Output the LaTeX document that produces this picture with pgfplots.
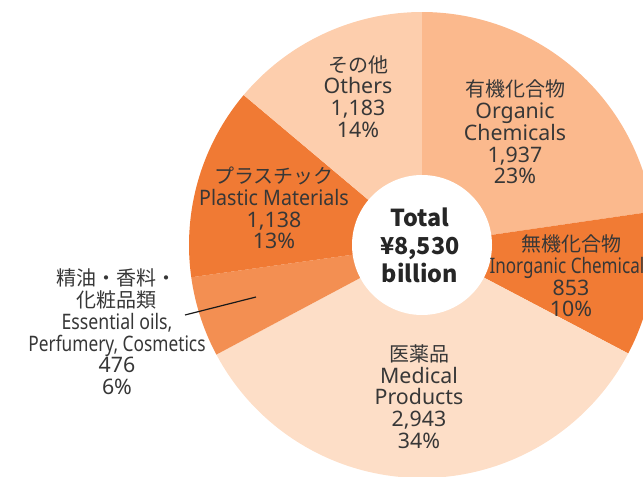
\documentclass[border=0pt]{standalone}
\usepackage{pgfplots}
\pgfplotsset{compat=1.18}
\usepackage{fontspec}
\setmainfont{Noto Sans}
\newfontfamily\jp{Noto Sans CJK JP}
\definecolor{cOrg}{RGB}{251,185,141}
\definecolor{cInorg}{RGB}{241,123,52}
\definecolor{cMed}{RGB}{253,222,199}
\definecolor{cEss}{RGB}{243,143,82}
\definecolor{cPla}{RGB}{240,122,52}
\definecolor{cOth}{RGB}{253,206,173}
\definecolor{txt}{RGB}{55,55,55}
% data (billion yen)
\def\vOrg{1937}
\def\vInorg{853}
\def\vMed{2943}
\def\vEss{476}
\def\vPla{1138}
\def\vOth{1183}
\pgfmathsetmacro\total{\vOrg+\vInorg+\vMed+\vEss+\vPla+\vOth}
\pgfmathsetmacro\aA{90}
\pgfmathsetmacro\aB{\aA-360*(\vOrg/\total)}
\pgfmathsetmacro\aC{\aB-360*(\vInorg/\total)}
\pgfmathsetmacro\aD{\aC-360*(\vMed/\total)}
\pgfmathsetmacro\aE{\aD-360*(\vEss/\total)}
\pgfmathsetmacro\aF{\aE-360*(\vPla/\total)}
\pgfmathsetmacro\aG{\aF-360*(\vOth/\total)}
\def\R{233}
\newcommand\jl[1]{{\jp\fontsize{15}{16.3}\selectfont #1}}
\newcommand\sq[2]{\scalebox{#1}[1]{#2}}
\begin{document}
\begin{tikzpicture}
\path[use as bounding box, clip] (0,0) rectangle (482.25pt,357pt);
\begin{axis}[at={(0,0)}, anchor=south west,
  scale only axis, width=482.25pt, height=357pt,
  xmin=-422, xmax=221, ymin=-231, ymax=245,
  hide axis, clip=true]
\addplot[fill=cOrg, draw=none, domain=\aB:\aA, samples=90] ({\R*cos(x)},{\R*sin(x)}) -- (axis cs:0,0) -- cycle;
\addplot[fill=cInorg, draw=none, domain=\aC:\aB, samples=60] ({\R*cos(x)},{\R*sin(x)}) -- (axis cs:0,0) -- cycle;
\addplot[fill=cMed, draw=none, domain=\aD:\aC, samples=120] ({\R*cos(x)},{\R*sin(x)}) -- (axis cs:0,0) -- cycle;
\addplot[fill=cEss, draw=none, domain=\aE:\aD, samples=40] ({\R*cos(x)},{\R*sin(x)}) -- (axis cs:0,0) -- cycle;
\addplot[fill=cPla, draw=none, domain=\aF:\aE, samples=60] ({\R*cos(x)},{\R*sin(x)}) -- (axis cs:0,0) -- cycle;
\addplot[fill=cOth, draw=none, domain=\aG:\aF, samples=60] ({\R*cos(x)},{\R*sin(x)}) -- (axis cs:0,0) -- cycle;
\addplot[fill=white, draw=none, domain=0:360, samples=120] ({70*cos(x)},{70*sin(x)}) -- cycle;
\addplot[black!90, line width=0.9pt] coordinates {(-237,-70) (-166,-52)};
\end{axis}
\begin{scope}[x=0.75pt, y=0.75pt, shift={(316.5pt,173.25pt)}]
\tikzset{lab/.style={align=center, text=txt, inner sep=0pt, font=\fontsize{16}{16.3}\selectfont}}
\node[lab] at (-64,148.5) {\jl{その他}\\Others\\1,183\\14\%};
\node[lab] at (93,113) {\jl{有機化合物}\\Organic\\Chemicals\\1,937\\23\%};
\node[lab] at (149,-31) {\jl{無機化合物}\\\sq{0.8}{Inorganic Chemicals}\\853\\10\%};
\node[lab] at (-148,37) {\jl{プラスチック}\\\sq{0.92}{Plastic Materials}\\1,138\\13\%};
\node[lab] at (-3,-151.5) {\jl{医薬品}\\Medical\\Products\\2,943\\34\%};
\node[lab] at (-305,-87) {\jl{精油・香料・}\\\jl{化粧品類}\\\sq{0.83}{Essential oils,}\\\sq{0.81}{Perfumery, Cosmetics}\\476\\6\%};
\node[align=center, text=black!85, inner sep=0pt, font=\jp\bfseries\fontsize{17.5}{21}\selectfont] at (-2,0) {Total\\¥8,530\\billion};
\end{scope}
\end{tikzpicture}
\end{document}
